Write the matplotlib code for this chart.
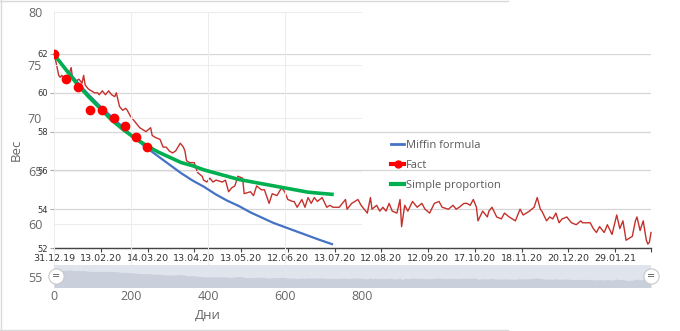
import matplotlib.pyplot as plt
from matplotlib.lines import Line2D

plt.rcParams['font.family'] = ['Open Sans', 'DejaVu Sans']

# ---- data: highcharts-like daily weight (point index, kg) ----
fact_series = [
    (0, 62.0), (1, 61.7), (3, 60.9), (4, 60.8), (5, 60.9), (6, 60.8), (8, 60.9), (9, 60.8),
    (11, 61.3), (12, 60.7), (14, 60.6), (16, 60.7), (18, 60.5), (19, 60.9), (20, 60.4),
    (22, 60.2), (24, 60.1), (26, 60.0), (28, 60.0), (29, 59.9), (31, 60.1), (33, 59.9),
    (35, 60.1), (37, 59.9), (39, 59.8), (40, 60.0), (42, 59.3), (44, 59.1), (46, 59.2),
    (47, 59.1), (49, 58.8), (51, 58.6), (53, 58.4), (55, 58.2), (57, 58.1), (59, 58.0),
    (62, 58.2), (63, 57.8), (65, 57.7), (68, 57.6), (70, 57.2), (72, 57.2), (74, 57.0),
    (76, 56.9), (78, 57.0), (81, 57.4), (83, 57.2), (84, 57.0), (85, 56.5), (87, 56.4),
    (90, 56.4), (92, 55.9), (95, 55.7), (96, 55.5), (98, 55.4), (100, 55.6), (102, 55.4),
    (104, 55.5), (108, 55.4), (110, 55.5), (112, 54.9), (114, 55.1), (116, 55.2),
    (118, 55.7), (121, 55.6), (122, 54.8), (126, 54.9), (128, 54.7), (130, 55.2),
    (133, 55.0), (135, 55.0), (138, 54.3), (140, 54.8), (143, 54.7), (146, 55.1),
    (148, 54.9), (150, 54.5), (153, 54.4), (154, 54.4), (156, 54.1), (159, 54.5),
    (161, 54.1), (163, 54.6), (165, 54.3), (167, 54.6), (169, 54.4), (172, 54.6),
    (175, 54.1), (177, 54.2), (179, 54.1), (181, 54.1), (183, 54.1), (187, 54.5),
    (188, 54.0), (191, 54.3), (193, 54.4), (195, 54.5), (197, 54.2), (201, 53.8),
    (203, 54.6), (204, 54.0), (207, 54.2), (209, 53.9), (211, 54.1), (213, 53.9),
    (215, 54.3), (217, 53.9), (220, 53.8), (222, 54.5), (223, 53.1), (225, 54.2),
    (227, 53.9), (230, 54.4), (233, 54.1), (236, 54.3), (238, 54.0), (241, 53.8),
    (244, 54.3), (247, 54.4), (249, 54.1), (253, 54.0), (256, 54.2), (258, 54.0),
    (260, 54.1), (263, 54.3), (265, 54.3), (267, 54.2), (269, 54.5), (271, 54.1),
    (272, 53.4), (275, 53.9), (278, 53.6), (279, 53.9), (281, 54.1), (284, 53.6),
    (287, 53.5), (289, 53.8), (292, 53.6), (296, 53.4), (299, 54.0), (301, 53.7),
    (303, 53.8), (305, 53.9), (308, 54.1), (310, 54.6), (312, 54.0), (313, 53.9),
    (316, 53.4), (318, 53.6), (320, 53.5), (322, 53.8), (324, 53.3), (326, 53.5),
    (329, 53.6), (332, 53.3), (335, 53.2), (338, 53.4), (339, 53.3), (342, 53.3),
    (344, 53.3), (346, 53.0), (348, 52.8), (350, 53.1), (353, 52.8), (355, 53.2),
    (358, 52.7), (361, 53.7), (363, 53.0), (365, 53.4), (367, 52.4), (371, 52.6),
    (373, 53.4), (374, 53.6), (376, 52.9), (378, 53.4), (380, 52.4), (381, 52.2),
    (382, 52.3), (383, 52.8),
]
date_labels = ["31.12.19", "13.02.20", "14.03.20", "13.04.20", "13.05.20", "12.06.20",
               "13.07.20", "12.08.20", "12.09.20", "17.10.20", "18.11.20", "20.12.20",
               "29.01.21"]
date_step = 30

# ---- data: excel-like model curves (day, kg) ----
model_days = [0, 30, 60, 90, 120, 150, 180, 210, 240, 270, 300, 330, 360,
              390, 420, 450, 480, 510, 540, 570, 600, 630, 660, 690, 722]
miffin = [76.0, 74.7, 73.4, 72.2, 71.1, 70.1, 69.1, 68.1, 67.2, 66.4, 65.6, 64.8, 64.1,
          63.5, 62.8, 62.2, 61.7, 61.1, 60.6, 60.1, 59.7, 59.3, 58.9, 58.5, 58.1]
simple = [76.0, 74.6, 73.2, 72.0, 70.9, 69.8, 68.9, 68.1, 67.4, 66.8, 66.3, 65.8, 65.5,
          65.1, 64.8, 64.5, 64.2, 64.0, 63.8, 63.6, 63.4, 63.2, 63.0, 62.9, 62.8]
fact_days = [0, 31, 62, 93, 124, 155, 184, 213, 242]
fact_kg = [76.0, 73.7, 72.9, 70.8, 70.8, 70.0, 69.2, 68.2, 67.3]

W, H = 680, 331


def box(x0, y0, x1, y1):
    return [x0 / W, 1 - y1 / H, (x1 - x0) / W, (y1 - y0) / H]


fig = plt.figure(figsize=(W / 100, H / 100), dpi=100)

idx = [p[0] for p in fact_series]
kg = [p[1] for p in fact_series]

# ================= highcharts layer =================
ax_hc = fig.add_axes(box(54, 54, 651, 248), zorder=1)
ax_hc.plot(idx, kg, color='#c4302b', lw=1.0, clip_on=False)
ax_hc.set_xlim(0, 383)
ax_hc.set_ylim(52, 62)
ax_hc.set_yticks(range(52, 63, 2))
ax_hc.set_xticks([i * date_step for i in range(len(date_labels))] + [383])
ax_hc.set_xticklabels(date_labels + [''])
ax_hc.grid(axis='y', color='#d6d6d6', lw=0.9)
ax_hc.set_axisbelow(True)
for s in ['top', 'right', 'left']:
    ax_hc.spines[s].set_visible(False)
ax_hc.spines['bottom'].set_color('#444444')
ax_hc.spines['bottom'].set_linewidth(1.0)
ax_hc.tick_params(axis='x', length=3, width=0.8, color='#444444', pad=1.5,
                  labelsize=6.8, labelcolor='#333333')
ax_hc.tick_params(axis='y', length=3, width=0.8, color='#aaaaaa', pad=1.5,
                  labelsize=6, labelcolor='#333333')
for lab in ax_hc.get_xticklabels() + ax_hc.get_yticklabels():
    lab.set_family('DejaVu Sans')

# ================= excel layer =================
ax_xl = fig.add_axes(box(54, 12, 362, 277), zorder=2)
ax_xl.patch.set_alpha(0)
ax_xl.plot(model_days, miffin, color='#4472C4', lw=1.6, label='Miffin formula')
ax_xl.plot(model_days, simple, color='#00B050', lw=2.6, label='Simple proportion')
ax_xl.plot(fact_days, fact_kg, 'o', color='#ff0000', ms=6, label='Fact')
ax_xl.set_xlim(0, 800)
ax_xl.set_ylim(55, 80)
ax_xl.set_xticks(range(0, 801, 200))
ax_xl.set_yticks(range(55, 81, 5))
ax_xl.grid(True, color='#ececec', lw=0.7)
for s in ax_xl.spines.values():
    s.set_visible(False)
ax_xl.tick_params(axis='both', length=0, labelsize=9, labelcolor='#666666')
ax_xl.tick_params(axis='y', pad=8.5)
ax_xl.tick_params(axis='x', pad=9)
ax_xl.set_xlabel('Дни', fontsize=9.5, color='#666666')
ax_xl.set_ylabel('Вес', fontsize=9.5, color='#666666')
ax_xl.xaxis.set_label_coords(0.5, -0.12)
ax_xl.yaxis.set_label_coords(-0.10, 0.48)

# ================= navigator =================
ax_nav = fig.add_axes(box(54, 265, 651, 287), zorder=3)
ax_nav.set_facecolor('#dfe4ed')
ax_nav.fill_between(idx, kg, 40, color='#c9d0dc', lw=0)
ax_nav.set_xlim(0, 383)
ax_nav.set_ylim(47, 65.3)
ax_nav.set_xticks([])
ax_nav.set_yticks([])
for s in ax_nav.spines.values():
    s.set_visible(False)
for hx in (0.004, 1.0):
    ax_nav.plot([hx], [0.5], 'o', ms=11, mfc='white', mec='#c8c8c8', mew=0.8,
                transform=ax_nav.transAxes, clip_on=False, zorder=5)
    ax_nav.text(hx, 0.5, '=', transform=ax_nav.transAxes, ha='center', va='center',
                fontsize=7, color='#555555', zorder=6, family='DejaVu Sans')

# ================= legend =================
handles = [Line2D([], [], color='#4472C4', lw=2),
           Line2D([], [], color='#ff0000', lw=3, marker='o', ms=5),
           Line2D([], [], color='#00B050', lw=3)]
fig.legend(handles, ['Miffin formula', 'Fact', 'Simple proportion'], loc='upper left',
           bbox_to_anchor=(381 / W, 1 - 130 / H), frameon=False, fontsize=8,
           handlelength=1.2, handletextpad=0.15, labelspacing=0.8, labelcolor='#595959')

# chart frame
for xs, ys in [([0, 508], [0.5, 0.5]), ([0, 508], [330, 330]), ([0.5, 0.5], [0, 330])]:
    fig.add_artist(Line2D([x / W for x in xs], [1 - y / H for y in ys],
                          color='#d9d9d9', lw=1, transform=fig.transFigure))

fig.savefig('out.png', dpi=100)
